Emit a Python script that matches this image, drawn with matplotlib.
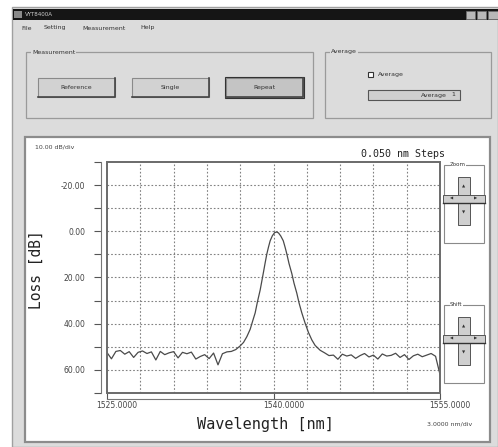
import matplotlib
matplotlib.use('Agg')
import matplotlib.pyplot as plt
import matplotlib.patches as patches
import matplotlib.transforms as transforms

# trace (10 dB/div, 3 nm/div, 0.050 nm steps)
wl_left = [1525.0, 1525.4, 1525.8, 1526.2, 1526.6, 1527.0, 1527.4, 1527.8, 1528.2, 1528.6,
           1529.0, 1529.4, 1529.8, 1530.2, 1530.6, 1531.0, 1531.4, 1531.8, 1532.2, 1532.6,
           1533.0, 1533.4, 1533.8, 1534.2, 1534.6, 1535.0, 1535.4, 1535.8, 1536.2]
loss_left = [52.5, 55.2, 52.0, 51.6, 53.2, 52.1, 54.6, 52.4, 51.8, 52.9,
             52.2, 55.7, 52.0, 53.4, 52.6, 52.1, 54.8, 52.4, 53.0, 52.3,
             55.3, 54.2, 53.4, 55.1, 52.7, 57.8, 53.0, 52.2, 52.0]

wl_peak = [1536.6, 1537.0, 1537.3, 1537.6, 1537.9, 1538.1, 1538.35, 1538.55, 1538.8, 1538.95,
           1539.1, 1539.25, 1539.4, 1539.55, 1539.7, 1539.9, 1540.1, 1540.28, 1540.45, 1540.65,
           1540.88, 1541.05, 1541.2, 1541.4, 1541.65, 1541.85, 1542.1, 1542.3, 1542.55, 1542.85,
           1543.15, 1543.45, 1543.75, 1544.2]
loss_peak = [51.2, 49.6, 48.1, 45.6, 42.4, 39.2, 35.3, 30.6, 25.4, 21.5,
             17.6, 13.6, 9.8, 6.8, 4.1, 1.9, 0.6, 0.3, 0.7, 2.0,
             4.1, 7.0, 9.8, 14.0, 18.3, 22.5, 26.8, 31.0, 35.3, 39.8,
             43.8, 47.0, 49.4, 51.5]

wl_right = [1544.6, 1545.0, 1545.4, 1545.8, 1546.2, 1546.6, 1547.0, 1547.4, 1547.8, 1548.2,
            1548.6, 1549.0, 1549.4, 1549.8, 1550.2, 1550.6, 1551.0, 1551.4, 1551.8, 1552.2,
            1552.6, 1553.0, 1553.4, 1553.8, 1554.2, 1554.6, 1555.0]
loss_right = [52.6, 53.8, 53.6, 55.4, 53.2, 54.0, 53.5, 55.0, 53.8, 52.9,
              54.4, 53.6, 55.3, 53.1, 54.0, 53.7, 52.8, 54.6, 53.4, 55.5,
              53.9, 53.2, 54.3, 53.6, 52.9, 54.1, 62.0]

x_ticks = [1525, 1540, 1555]
x_ticklabels = ['1525.0000', '1540.0000', '1555.0000']
x_grid = [1528, 1531, 1534, 1537, 1540, 1543, 1546, 1549, 1552]
y_ticks = [-30, -20, -10, 0, 10, 20, 30, 40, 50, 60, 70]
y_ticklabels = ['', '-20.00', '', '0.00', '', '20.00', '', '40.00', '', '60.00', '']
y_grid = [-20, -10, 0, 10, 20, 30, 40, 50, 60]

menu_items = ['File', 'Setting', 'Measurement', 'Help']
menu_x = [21, 44, 82, 140]
buttons = ['Reference', 'Single', 'Repeat']
button_x = [38, 132, 226]

W, H = 498, 447
fig = plt.figure(figsize=(W / 100, H / 100), dpi=100)
fig.patch.set_facecolor('white')

# ---- window chrome drawn in pixel coords ----
bg = fig.add_axes([0, 0, 1, 1])
bg.set_xlim(0, W)
bg.set_ylim(H, 0)
bg.axis('off')

ui = '#dcdcdc'
bg.add_patch(patches.Rectangle((12, 7), W - 12, H - 7, fc=ui, ec='#a0a0a0', lw=1))
# title bar
bg.add_patch(patches.Rectangle((13, 9), W - 13, 11, fc='#151515', ec='none'))
bg.add_patch(patches.Rectangle((14, 11), 8, 7, fc='#8a8a8a', ec='none'))
bg.text(25, 14.5, 'VYT8400A', color='#cfcfcf', fontsize=4, va='center')
for bx in [466, 477]:
    bg.add_patch(patches.Rectangle((bx, 11), 9, 8, fc='#b8b8b8', ec='#707070', lw=0.5))
bg.add_patch(patches.Rectangle((488, 11), 10, 8, fc='#b8b8b8', ec='#707070', lw=0.5))
# menu
for name, mx in zip(menu_items, menu_x):
    bg.text(mx, 28, name, fontsize=4.5, color='#333333', va='center')

# Measurement group
bg.add_patch(patches.Rectangle((26, 52), 287, 66, fc='none', ec='#9a9a9a', lw=0.9))
bg.text(32, 52, 'Measurement', fontsize=4.5, color='#333333', va='center',
        bbox=dict(fc=ui, ec='none', pad=0.5))
for i, (name, bx) in enumerate(zip(buttons, button_x)):
    fc = '#c4c4c4' if name == 'Repeat' else '#d2d2d2'
    bg.add_patch(patches.Rectangle((bx, 78), 77, 19, fc=fc, ec='#8a8a8a', lw=0.8))
    bg.plot([bx + 77, bx + 77, bx], [78, 97, 97], color='#444444', lw=1.2)
    if name == 'Repeat':
        bg.add_patch(patches.Rectangle((bx - 1, 77), 79, 21, fc='none', ec='#333333', lw=0.8))
    bg.text(bx + 38.5, 87.5, name, fontsize=4.5, color='#333333', ha='center', va='center')

# Average group
bg.add_patch(patches.Rectangle((325, 52), 166, 66, fc='none', ec='#9a9a9a', lw=0.9))
bg.text(331, 52, 'Average', fontsize=4.5, color='#333333', va='center',
        bbox=dict(fc=ui, ec='none', pad=0.5))
bg.add_patch(patches.Rectangle((368, 72), 5, 5, fc='white', ec='#333333', lw=0.8))
bg.text(378, 74.5, 'Average', fontsize=4.5, color='#333333', va='center')
bg.add_patch(patches.Rectangle((368, 90), 92, 10, fc='#cfcfcf', ec='#555555', lw=0.8))
bg.text(447, 95, 'Average', fontsize=4.5, color='#333333', va='center', ha='right')
bg.text(455, 95, '1', fontsize=4.5, color='#333333', va='center', ha='right')

# chart panel
bg.add_patch(patches.Rectangle((25, 137), 465, 305, fc='white', ec='#8c8c8c', lw=1.6))
bg.text(35, 147, '10.00 dB/div', fontsize=4.5, color='#444444', va='center')
bg.text(445, 154, '0.050 nm Steps', fontsize=7.2, color='#222222', va='center', ha='right',
        family='DejaVu Sans Mono')
bg.text(472, 424, '3.0000 nm/div', fontsize=4.5, color='#444444', va='center', ha='right')
bg.text(36, 270, 'Loss [dB]', fontsize=10.5, color='#222222', va='center', ha='center',
        rotation=90, family='DejaVu Sans Mono')
bg.text(265, 424, 'Wavelength [nm]', fontsize=11, color='#222222', va='center', ha='center',
        family='DejaVu Sans Mono')

# side control boxes with arrow crosses
for top, label in [(165, 'Zoom'), (305, 'Shift')]:
    bg.add_patch(patches.Rectangle((444, top), 40, 78, fc='none', ec='#8a8a8a', lw=0.8))
    bg.text(450, top, label, fontsize=4, color='#333333', va='center',
            bbox=dict(fc='white', ec='none', pad=0.3))
    cy = top + 34
    bg.add_patch(patches.Rectangle((458, cy - 22), 12, 48, fc='#cfcfcf', ec='#555555', lw=0.7))
    bg.add_patch(patches.Rectangle((443, cy - 4), 42, 8, fc='#cfcfcf', ec='#555555', lw=0.7))
    bg.plot([443, 485], [cy + 4, cy + 4], color='#333333', lw=1)
    bg.text(464, cy - 12, '\u25b2', fontsize=3, ha='center', va='center', color='#333333')
    bg.text(464, cy + 14, '\u25bc', fontsize=3, ha='center', va='center', color='#333333')
    bg.text(452, cy, '\u25c0', fontsize=3, ha='center', va='center', color='#333333')
    bg.text(476, cy, '\u25b6', fontsize=3, ha='center', va='center', color='#333333')

# ---- the plot itself ----
L, T, R, B = 107, 162, 440, 393
ax = fig.add_axes([L / W, (H - B) / H, (R - L) / W, (B - T) / H])
ax.set_facecolor('white')
ax.set_xlim(1525, 1555)
ax.set_ylim(70, -30)

for g in x_grid:
    ax.axvline(g, color='#808080', lw=0.8, ls=(0, (1.5, 1.8)), zorder=1)
for g in y_grid:
    ax.axhline(g, color='#808080', lw=0.8, ls=(0, (1.5, 1.8)), zorder=1)

wl = wl_left + wl_peak + wl_right
loss = loss_left + loss_peak + loss_right
ax.plot(wl, loss, color='#4a4a4a', lw=0.9, zorder=3)

# plot frame
ax.add_patch(patches.Rectangle((0, 0), 1, 1, transform=ax.transAxes, fc='none',
                               ec='#6a6a6a', lw=1.4, zorder=4, clip_on=False))

ax.spines['top'].set_visible(False)
ax.spines['right'].set_visible(False)
ax.spines['left'].set_position(('outward', 4.5))
ax.spines['bottom'].set_position(('outward', 4))
ax.spines['left'].set_color('#777777')
ax.spines['bottom'].set_color('#777777')

ax.set_yticks(y_ticks)
ax.set_yticklabels(y_ticklabels)
ax.set_xticks(x_ticks)
ax.set_xticklabels(x_ticklabels)
ax.tick_params(axis='y', direction='out', length=5, width=0.8, color='#555555',
               labelsize=5.5, labelcolor='#444444', pad=6)
ax.tick_params(axis='x', direction='in', length=4, width=0.8, color='#555555',
               labelsize=5.5, labelcolor='#444444', pad=2)
shift = transforms.ScaledTranslation(0.10, 0, fig.dpi_scale_trans)
for lab in ax.get_xticklabels():
    lab.set_transform(lab.get_transform() + shift)

fig.savefig('out.png', dpi=100)
